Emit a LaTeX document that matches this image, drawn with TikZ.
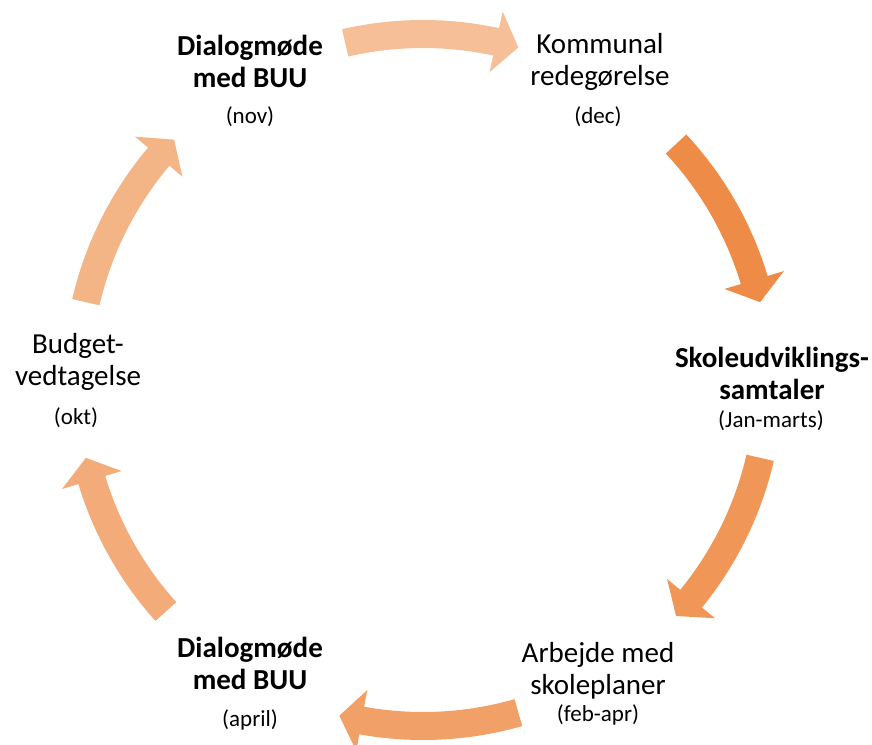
\documentclass[tikz,border=0pt]{standalone}
\usepackage{fontspec}
\setmainfont{Carlito}
\usetikzlibrary{calc}
\definecolor{arA}{HTML}{F6BF98}
\definecolor{arB}{HTML}{EE8B46}
\definecolor{arC}{HTML}{F09656}
\definecolor{arD}{HTML}{F1A068}
\definecolor{arE}{HTML}{F2AB79}
\definecolor{arF}{HTML}{F4B586}
\tikzset{
  lbl/.style={align=center, inner sep=0pt, font=\fontsize{29}{32}\selectfont},
  lblb/.style={align=center, inner sep=0pt, font=\fontsize{29}{32}\selectfont\bfseries},
  datelbl/.style={inner sep=0pt, font=\fontsize{23}{27}\selectfont},
}
% colour, tail angle, tip angle (screen angles, clockwise)
\newcommand{\cyclearrow}[3]{%
  \fill[#1] ($(C)+(#2:360)$) arc[start angle=#2, end angle={#3-3.8}, radius=360]
    -- ($(C)+({#3-3.8}:377)$) -- ($(C)+(#3:346)$) -- ($(C)+({#3-3.8}:315)$)
    -- ($(C)+({#3-3.8}:332)$) arc[start angle={#3-3.8}, end angle=#2, radius=332] -- cycle;}
\begin{document}
\begin{tikzpicture}[x=1pt,y=-1pt]
\useasboundingbox (0,0) rectangle (872,744);
\coordinate (C) at (423,380);
\cyclearrow{arA}{-103}{-74}
\cyclearrow{arB}{-43}{-13}
\cyclearrow{arC}{13}{43}
\cyclearrow{arD}{74}{104}
\cyclearrow{arE}{138}{167}
\cyclearrow{arF}{-167}{-136}
\node[lblb] (dnov) at (250,61) {Dialogmøde\\med BUU};
\node[datelbl] (nov) at (250,117) {(nov)};
\node[lbl] (kom) at (600,62) {Kommunal\\redegørelse};
\node[datelbl] (dec) at (598,117) {(dec)};
\node[lblb] (sku) at (772,373) {Skoleudviklings-\\samtaler};
\node[datelbl] (jan) at (771,421) {(Jan-marts)};
\node[lbl] (arb) at (598,671) {Arbejde med\\skoleplaner};
\node[datelbl] (feb) at (598,715) {(feb-apr)};
\node[lblb] (dapr) at (250,663) {Dialogmøde\\med BUU};
\node[datelbl] (apr) at (250,720) {(april)};
\node[lbl] (bud) at (78,362) {Budget-\\vedtagelse};
\node[datelbl] (okt) at (76,418) {(okt)};
\end{tikzpicture}
\end{document}
